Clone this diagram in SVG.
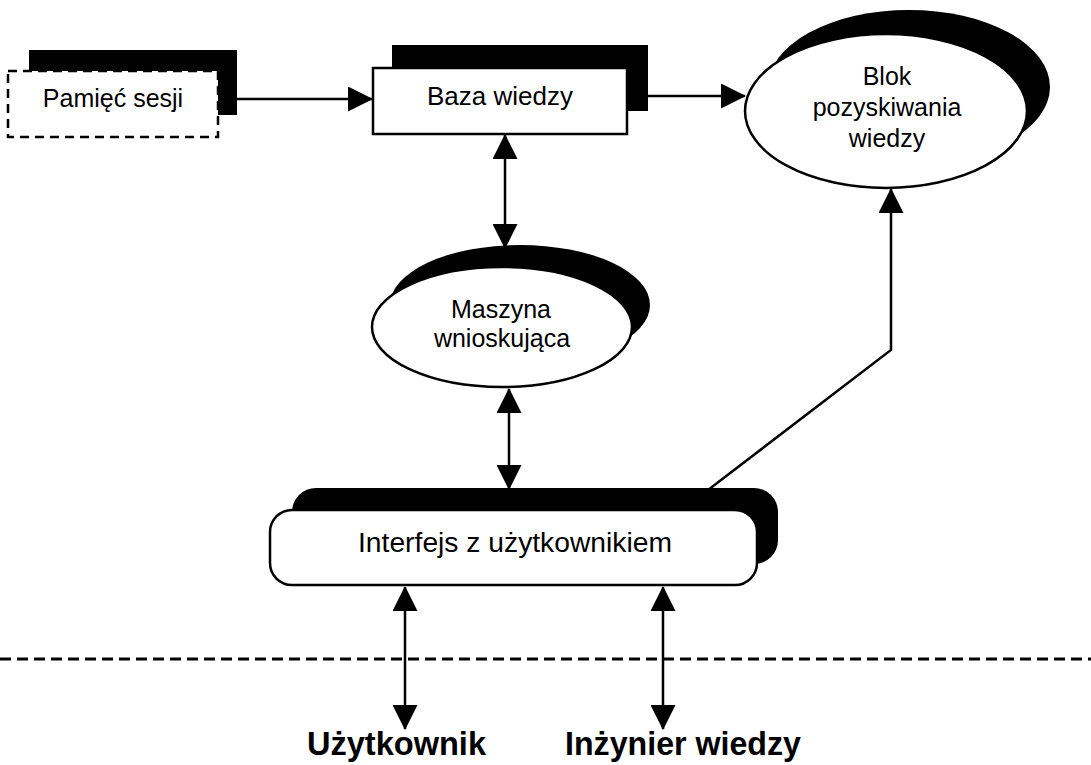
<svg xmlns="http://www.w3.org/2000/svg" width="1091" height="765" viewBox="0 0 1091 765">
<style>
  .shadow { fill: #000; stroke: none; }
  .box { fill: #fff; stroke: #000; stroke-width: 2.5; }
  .dashbox { fill: #fff; stroke: #000; stroke-width: 2.5; stroke-dasharray: 9 6; }
  .lbl { font-family: "Liberation Sans", Arial, sans-serif; font-size: 25px; fill: #000; text-anchor: middle; }
  .big { font-family: "Liberation Sans", Arial, sans-serif; font-size: 33px; font-weight: bold; fill: #000; }
  .conn { fill: none; stroke: #000; stroke-width: 2.5; }
  .sep { fill: none; stroke: #000; stroke-width: 3; stroke-dasharray: 11 6; }
</style>
<defs>
  <marker id="arr" viewBox="0 0 25 25" markerWidth="25" markerHeight="25" refX="24" refY="12.5" orient="auto-start-reverse" markerUnits="userSpaceOnUse">
    <path d="M0,0 L25,12.5 L0,25 z" fill="#000"/>
  </marker>
</defs>
<rect width="1091" height="765" fill="#fff"/>

<g id="pamiec-sesji">
  <rect class="shadow" x="29" y="50" width="208" height="65"/>
  <rect class="dashbox" x="8" y="71" width="210" height="66"/>
  <text class="lbl" x="113" y="107">Pamięć sesji</text>
</g>

<g id="baza-wiedzy">
  <rect class="shadow" x="392" y="45" width="256" height="66"/>
  <rect class="box" x="373" y="68" width="254" height="66"/>
  <text class="lbl" x="500" y="105" style="font-size:26px">Baza wiedzy</text>
</g>

<g id="blok-pozyskiwania">
  <ellipse class="shadow" cx="909" cy="87" rx="141" ry="77"/>
  <ellipse class="box" cx="886" cy="111" rx="141" ry="77"/>
  <text class="lbl" x="887" y="85">Blok</text>
  <text class="lbl" x="887" y="116">pozyskiwania</text>
  <text class="lbl" x="887" y="147">wiedzy</text>
</g>

<g id="maszyna-wnioskujaca">
  <ellipse class="shadow" cx="520" cy="305" rx="130" ry="60"/>
  <ellipse class="box" cx="502" cy="327" rx="130" ry="60"/>
  <text class="lbl" x="501" y="318">Maszyna</text>
  <text class="lbl" x="502" y="347">wnioskująca</text>
</g>

<g id="interfejs">
  <rect class="shadow" x="292" y="488" width="486" height="76" rx="24" ry="24"/>
  <rect class="box" x="270" y="510" width="487" height="75" rx="22" ry="22"/>
  <text class="lbl" x="515" y="552" style="font-size:27px" textLength="314" lengthAdjust="spacingAndGlyphs">Interfejs z użytkownikiem</text>
</g>

<g id="uzytkownik">
  <text class="big" x="307" y="755" textLength="179" lengthAdjust="spacingAndGlyphs">Użytkownik</text>
</g>

<g id="inzynier-wiedzy">
  <text class="big" x="565" y="755" textLength="236" lengthAdjust="spacingAndGlyphs">Inżynier wiedzy</text>
</g>

<g id="connectors">
  <line class="conn" x1="237" y1="99" x2="372" y2="99" marker-end="url(#arr)"/>
  <line class="conn" x1="648" y1="96" x2="745" y2="96" marker-end="url(#arr)"/>
  <line class="conn" x1="505" y1="135" x2="505" y2="248" marker-start="url(#arr)" marker-end="url(#arr)"/>
  <line class="conn" x1="509" y1="389" x2="509" y2="489" marker-start="url(#arr)" marker-end="url(#arr)"/>
  <polyline class="conn" points="708,490 891,350 891,189" marker-end="url(#arr)"/>
  <line class="conn" x1="405" y1="587" x2="405" y2="729" marker-start="url(#arr)" marker-end="url(#arr)"/>
  <line class="conn" x1="663" y1="587" x2="663" y2="729" marker-start="url(#arr)" marker-end="url(#arr)"/>
</g>

<line id="separator" class="sep" x1="0" y1="659" x2="1091" y2="659"/>
</svg>
